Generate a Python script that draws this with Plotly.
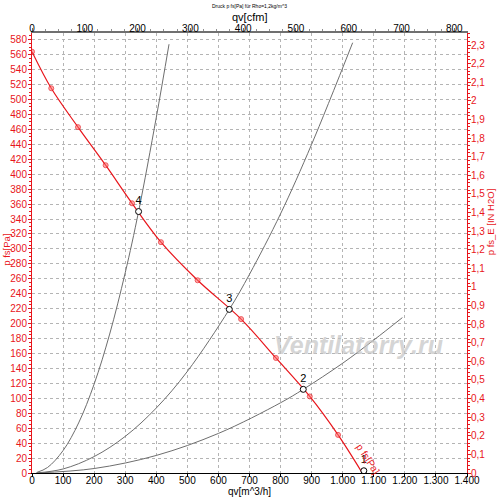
import plotly.graph_objects as go

# ---- data ----
# fan curve p_fs [Pa] over qv [m^3/h]
q_fan = [0, 62, 148, 237, 322, 415, 533, 673, 785, 894, 985, 1063]
p_fan = [564, 515, 463, 412, 361, 309, 258, 206, 154, 102.5, 51, 0]

# system curves
q_a = [15, 50, 100, 150, 200, 250, 300, 343, 400, 441]
p_a = [0.7, 7.4, 30, 67, 119, 186, 268, 350, 476, 574]
q_b = [15, 100, 200, 300, 400, 500, 635, 700, 800, 900, 1032]
p_b = [0.1, 5.4, 22, 49, 87, 136, 219, 266, 347, 440, 576]
q_c = [15, 200, 400, 600, 800, 873, 1000, 1100, 1192]
p_c = [0.03, 6, 23.5, 53, 94, 112, 147, 178, 208]

# operating points
op_q = [1068, 873, 635, 343]
op_p = [3, 112, 219, 350]
op_lbl = ["1", "2", "3", "4"]

Q_MAX = 1400          # m^3/h
P_MAX = 589           # Pa
CFM = 0.58858         # cfm per m^3/h
INH2O = 249.09        # Pa per in H2O

RED = "#e8151b"
GRAY = "#6e6e6e"
FONT = "Liberation Sans, Arial, sans-serif"

fig = go.Figure()

# system curves
for qs, ps in [(q_a, p_a), (q_b, p_b), (q_c, p_c)]:
    fig.add_trace(go.Scatter(x=qs, y=ps, mode="lines", line=dict(color=GRAY, width=1, shape="spline"),
                             hoverinfo="skip", showlegend=False))

# fan curve
fig.add_trace(go.Scatter(
    x=q_fan, y=p_fan, mode="lines+markers",
    line=dict(color=RED, width=1.2, shape="spline"),
    marker=dict(size=[5] * (len(q_fan) - 1) + [0], color="rgba(255,110,110,0.8)",
                line=dict(color=RED, width=1)),
    showlegend=False
))

# operating points
fig.add_trace(go.Scatter(
    x=op_q, y=op_p, mode="markers+text", text=op_lbl, textposition="top center",
    textfont=dict(family=FONT, size=11, color="black"),
    marker=dict(size=6, color="white", line=dict(color="black", width=1)),
    showlegend=False
))

# dummy trace to bring up secondary axes
fig.add_trace(go.Scatter(x=[0, Q_MAX * CFM], y=[0, P_MAX / INH2O], xaxis="x2", yaxis="y2",
                         mode="markers", marker=dict(opacity=0), hoverinfo="skip", showlegend=False))

tickfont = dict(family=FONT, size=10, color="black")
redfont = dict(family=FONT, size=10, color=RED)


def label(text, x, y, size, color="black", angle=0):
    return dict(text=text, xref="paper", yref="paper", x=x, y=y, xanchor="center", yanchor="middle",
                textangle=angle, showarrow=False, font=dict(family=FONT, size=size, color=color))


fig.update_layout(
    width=500, height=499,
    margin=dict(l=32, r=33, t=33, b=26),
    plot_bgcolor="white", paper_bgcolor="white",
    separators=",.",
    xaxis=dict(range=[0, Q_MAX], dtick=100, separatethousands=True, tickfont=tickfont,
               showgrid=True, gridcolor="#b4b4b4", griddash="dot", gridwidth=1,
               showline=True, linecolor="black", linewidth=1, ticks="outside", ticklen=3,
               tickcolor="black", zeroline=False, automargin=False, ticklabelstandoff=-5),
    xaxis2=dict(range=[0, Q_MAX * CFM], dtick=100, overlaying="x", side="top", tickfont=tickfont,
                showgrid=False, showline=True, linecolor="#707070", linewidth=2,
                ticks="outside", ticklen=3, tickcolor="#707070",
                minor=dict(dtick=25, ticks="outside", ticklen=2, tickcolor="#909090"),
                zeroline=False, automargin=False, ticklabelstandoff=-8),
    yaxis=dict(range=[0, P_MAX], dtick=20, tickfont=redfont,
               showgrid=True, gridcolor="#b4b4b4", griddash="dot", gridwidth=1,
               showline=True, linecolor=RED, linewidth=1, ticks="outside", ticklen=3, tickcolor=RED,
               minor=dict(dtick=5, ticks="outside", ticklen=2, tickcolor=RED),
               zeroline=False, automargin=False, ticklabelstandoff=-1),
    yaxis2=dict(range=[0, P_MAX / INH2O], dtick=0.1, overlaying="y", side="right", tickfont=redfont,
                showgrid=False, showline=True, linecolor=RED, linewidth=1,
                ticks="outside", ticklen=3, tickcolor=RED,
                minor=dict(dtick=0.02, ticks="outside", ticklen=2, tickcolor=RED),
                zeroline=False, automargin=False, ticklabelstandoff=-2),
    annotations=[
        label("Druck p fs[Pa] für Rho=1,2kg/m^3", 0.5, 1.061, 5),
        label("qv[cfm]", 0.5, 1.037, 11),
        label("qv[m^3/h]", 0.5, -0.042, 10),
        label("p fs[Pa]", -0.058, 0.507, 9.5, RED, -90),
        label("p fs_E [IN H2O]", 1.054, 0.571, 9.5, RED, -90),
        dict(text="p fs[Pa]", x=1080, y=19, textangle=57, showarrow=False,
             font=dict(family=FONT, size=10, color=RED)),
        dict(text="<i><b>Ventilatorry.ru</b></i>", x=1050, y=172, showarrow=False,
             font=dict(family=FONT, size=25, color="rgba(195,195,195,0.7)")),
    ],
)

# drop the default page margin so the figure sits at the window corner
fig.write_html("out.html", config={"displayModeBar": False},
               post_script="document.body.style.margin='0';")
